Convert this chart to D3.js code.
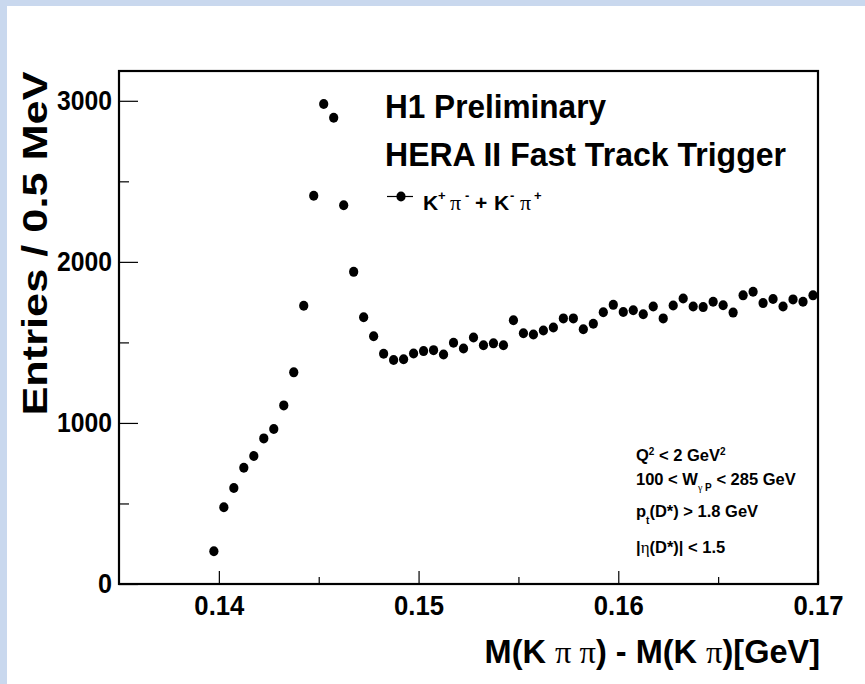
<!DOCTYPE html>
<html>
<head>
<meta charset="utf-8">
<script src="https://cdn.jsdelivr.net/npm/d3@7/dist/d3.min.js"></script>
<style>
  html, body { margin: 0; padding: 0; background: #ffffff; }
  svg { display: block; }
  text { font-family: "Liberation Sans", Arial, Helvetica, sans-serif; font-weight: bold; fill: #000; }
  .serif { font-family: "Liberation Serif", "DejaVu Serif", serif; font-weight: normal; }
</style>
</head>
<body>
<svg id="chart" width="865" height="684"></svg>
<script>
// ---- data ----
const massDiff = [
  0.13975, 0.14025, 0.14075, 0.14125, 0.14175, 0.14225, 0.14275, 0.14325, 0.14375, 0.14425,
  0.14475, 0.14525, 0.14575, 0.14625, 0.14675, 0.14725, 0.14775, 0.14825, 0.14875, 0.14925,
  0.14975, 0.15025, 0.15075, 0.15125, 0.15175, 0.15225, 0.15275, 0.15325, 0.15375, 0.15425,
  0.15475, 0.15525, 0.15575, 0.15625, 0.15675, 0.15725, 0.15775, 0.15825, 0.15875, 0.15925,
  0.15975, 0.16025, 0.16075, 0.16125, 0.16175, 0.16225, 0.16275, 0.16325, 0.16375, 0.16425,
  0.16475, 0.16525, 0.16575, 0.16625, 0.16675, 0.16725, 0.16775, 0.16825, 0.16875, 0.16925,
  0.16975
];
const entries = [
  203, 476, 596, 722, 795, 904, 962, 1109, 1314, 1728,
  2410, 2980, 2895, 2351, 1938, 1656, 1538, 1429, 1391, 1395,
  1431, 1446, 1452, 1425, 1498, 1462, 1530, 1482, 1494, 1482,
  1637, 1557, 1549, 1574, 1593, 1649, 1649, 1582, 1616, 1687,
  1733, 1689, 1700, 1675, 1723, 1649, 1729, 1773, 1723, 1719,
  1752, 1731, 1685, 1792, 1815, 1744, 1769, 1723, 1767, 1752,
  1792
];
const xMajorTicks = [0.14, 0.15, 0.16, 0.17];
const xMinorTicks = [0.145, 0.155, 0.165];
const yMajorTicks = [0, 1000, 2000, 3000];
const yMinorTicks = [500, 1500, 2500];
const xDomain = [0.135, 0.17];
const yDomain = [0, 3185];

// ---- layout ----
const svg = d3.select("#chart");
const W = 865, H = 684;
const frame = { left: 119, right: 818, top: 71, bottom: 584 };

// page background: light blue border strips
svg.append("rect").attr("x", 0).attr("y", 0).attr("width", W).attr("height", H).attr("fill", "#c9d8ee");
svg.append("rect").attr("x", 7).attr("y", 6).attr("width", W - 7).attr("height", H - 6).attr("fill", "#ffffff");

const x = d3.scaleLinear().domain(xDomain).range([frame.left, frame.right]);
const y = d3.scaleLinear().domain(yDomain).range([frame.bottom, frame.top]);

const fmtX = d3.format(".2f");
const labelLen = s => s.length === 1 ? 14 : (s.length === 4 ? (s.includes(".") ? 50 : 55) : null);

function styleLabels(g) {
  g.selectAll("text")
    .style("font-size", "27px")
    .attr("fill", "#000")
    .each(function () {
      const t = d3.select(this);
      const L = labelLen(t.text());
      if (L) t.attr("textLength", L).attr("lengthAdjust", "spacingAndGlyphs");
    });
}

// X axis (ticks inward)
const gx = svg.append("g").attr("transform", `translate(0,${frame.bottom})`)
  .call(d3.axisBottom(x).tickValues(xMajorTicks).tickSizeInner(-13).tickSizeOuter(0).tickPadding(12).tickFormat(fmtX));
gx.select(".domain").remove();
gx.selectAll("line").attr("stroke", "#000").attr("stroke-width", 1.2);
styleLabels(gx);

const gxm = svg.append("g").attr("transform", `translate(0,${frame.bottom})`)
  .call(d3.axisBottom(x).tickValues(xMinorTicks).tickSizeInner(-7).tickSizeOuter(0).tickFormat(""));
gxm.select(".domain").remove();
gxm.selectAll("line").attr("stroke", "#000").attr("stroke-width", 1.2);

// Y axis (ticks inward)
const gy = svg.append("g").attr("transform", `translate(${frame.left},0)`)
  .call(d3.axisLeft(y).tickValues(yMajorTicks).tickSizeInner(-19).tickSizeOuter(0).tickPadding(7).tickFormat(d3.format("d")));
gy.select(".domain").remove();
gy.selectAll("line").attr("stroke", "#000").attr("stroke-width", 1.2);
styleLabels(gy);

const gym = svg.append("g").attr("transform", `translate(${frame.left},0)`)
  .call(d3.axisLeft(y).tickValues(yMinorTicks).tickSizeInner(-10).tickSizeOuter(0).tickFormat(""));
gym.select(".domain").remove();
gym.selectAll("line").attr("stroke", "#000").attr("stroke-width", 1.2);

// frame
svg.append("rect")
  .attr("x", frame.left).attr("y", frame.top)
  .attr("width", frame.right - frame.left).attr("height", frame.bottom - frame.top)
  .attr("fill", "none").attr("stroke", "#000").attr("stroke-width", 2.2);

// data points
svg.append("g").selectAll("ellipse")
  .data(massDiff.map((m, i) => ({ m, v: entries[i] })))
  .join("ellipse")
  .attr("cx", d => x(d.m))
  .attr("cy", d => y(d.v))
  .attr("rx", 4.6).attr("ry", 5)
  .attr("fill", "#000");

// axis titles
svg.append("text")
  .attr("transform", `translate(47,${(71 + 416) / 2}) rotate(-90)`)
  .attr("text-anchor", "middle")
  .style("font-size", "35px")
  .attr("textLength", 344).attr("lengthAdjust", "spacingAndGlyphs")
  .text("Entries / 0.5 MeV");

const xt = svg.append("text")
  .attr("x", 820).attr("y", 663)
  .attr("text-anchor", "end")
  .style("font-size", "32.5px");
xt.append("tspan").text("M(K ");
xt.append("tspan").attr("class", "serif").text("π π");
xt.append("tspan").text(") - M(K ");
xt.append("tspan").attr("class", "serif").text("π");
xt.append("tspan").text(")[GeV]");

// titles
svg.append("text").attr("x", 385).attr("y", 118).style("font-size", "33px")
  .attr("textLength", 221).attr("lengthAdjust", "spacingAndGlyphs").text("H1 Preliminary");
svg.append("text").attr("x", 385).attr("y", 166).style("font-size", "33px")
  .attr("textLength", 401).attr("lengthAdjust", "spacingAndGlyphs").text("HERA II Fast Track Trigger");

// legend
const legY = 196.5;
svg.append("line").attr("x1", 387).attr("x2", 413).attr("y1", legY).attr("y2", legY).attr("stroke", "#000").attr("stroke-width", 1.2);
svg.append("ellipse").attr("cx", 401).attr("cy", legY).attr("rx", 4.6).attr("ry", 5).attr("fill", "#000");
const lt = svg.append("text").attr("y", 210).style("font-size", "21px");
const base = 210, sup = 200;
lt.append("tspan").attr("x", 423).attr("y", base).text("K");
lt.append("tspan").attr("x", 438).attr("y", sup).style("font-size", "13px").text("+");
lt.append("tspan").attr("x", 450).attr("y", base).attr("class", "serif").style("font-size", "22px").text("π");
lt.append("tspan").attr("x", 465).attr("y", sup).style("font-size", "13px").text("-");
lt.append("tspan").attr("x", 475).attr("y", base).text("+");
lt.append("tspan").attr("x", 494).attr("y", base).text("K");
lt.append("tspan").attr("x", 510).attr("y", sup).style("font-size", "13px").text("-");
lt.append("tspan").attr("x", 520).attr("y", base).attr("class", "serif").style("font-size", "22px").text("π");
lt.append("tspan").attr("x", 534).attr("y", sup).style("font-size", "13px").text("+");

// cut annotations
const ax = 636;
const a1 = svg.append("text").attr("x", ax).attr("y", 461).style("font-size", "16.5px");
a1.append("tspan").text("Q");
a1.append("tspan").attr("dy", -6).style("font-size", "10px").text("2");
a1.append("tspan").attr("dy", 6).text(" < 2 GeV");
a1.append("tspan").attr("dy", -6).style("font-size", "10px").text("2");

const a2 = svg.append("text").attr("x", ax).attr("y", 485).style("font-size", "16.5px");
a2.append("tspan").text("100 < W");
a2.append("tspan").attr("dy", 6).attr("class", "serif").style("font-size", "10px").text("γ");
a2.append("tspan").style("font-size", "10px").text(" P");
a2.append("tspan").attr("dy", -6).text(" < 285 GeV");

const a3 = svg.append("text").attr("x", ax).attr("y", 517).style("font-size", "16.5px");
a3.append("tspan").text("p");
a3.append("tspan").attr("dy", 7).style("font-size", "10px").text("t");
a3.append("tspan").attr("dy", -7).text("(D*) > 1.8 GeV");

const a4 = svg.append("text").attr("x", ax).attr("y", 553).style("font-size", "16.5px");
a4.append("tspan").text("|");
a4.append("tspan").attr("class", "serif").style("font-size", "17px").text("η");
a4.append("tspan").text("(D*)| < 1.5");
</script>
</body>
</html>
